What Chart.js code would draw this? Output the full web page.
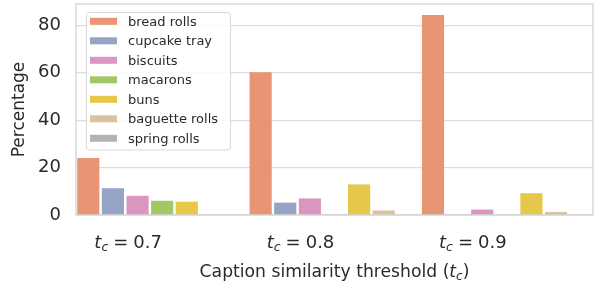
<!DOCTYPE html>
<html><head><meta charset="utf-8">
<script src="https://cdn.jsdelivr.net/npm/chart.js@4/dist/chart.umd.min.js"></script>
<style>html,body{margin:0;padding:0;background:#fff}#wrap{width:594px;height:285px;position:relative}</style>
</head><body><div id="wrap"><canvas id="c"></canvas></div>
<script>
// ---- data ----
const thresholds = ['0.7', '0.8', '0.9'];
const seriesNames = ['bread rolls', 'cupcake tray', 'biscuits', 'macarons', 'buns', 'baguette rolls', 'spring rolls'];
const breadRolls    = [24.0, 60.2, 84.4];
const cupcakeTray   = [11.3, 5.2, 0];
const biscuits      = [8.1, 7.0, 2.3];
const macarons      = [6.0, 0, 0];
const buns          = [5.6, 12.9, 9.2];
const baguetteRolls = [0, 1.9, 1.3];
const springRolls   = [0, 0, 0];
const yTickValues   = [0, 20, 40, 60, 80];
const yMax = 89;

// ---- style ----
const seriesColors = ['#e99575', '#95a3c4', '#db96c0', '#a2c864', '#e5c849', '#dbc29e', '#b3b3b3'];
const FONT = "'DejaVu Sans', sans-serif";
const TEXT = '#2a2a2a';
const seriesValues = [breadRolls, cupcakeTray, biscuits, macarons, buns, baguetteRolls, springRolls];

const datasets = seriesNames.map((name, i) => ({
  label: name,
  data: seriesValues[i],
  backgroundColor: seriesColors[i],
  borderWidth: 0,
  barPercentage: 0.9,
  categoryPercentage: 1.0
}));

function drawMathLabel(ctx, pieces, cx, baseline) {
  let total = 0;
  pieces.forEach(p => { ctx.font = p.font; p.w = ctx.measureText(p.text).width + (p.gap || 0); total += p.w; });
  let x = cx - total / 2;
  ctx.textAlign = 'left';
  ctx.textBaseline = 'alphabetic';
  pieces.forEach(p => { ctx.font = p.font; ctx.fillText(p.text, x + (p.pre || 0), baseline + (p.dy || 0)); x += p.w; });
}

const decor = {
  id: 'decor',
  afterDatasetsDraw(chart) {
    const {ctx, chartArea: a} = chart;
    ctx.save();
    ctx.strokeStyle = '#cfcfcf';
    ctx.lineWidth = 1.2;
    ctx.strokeRect(a.left, a.top, a.right - a.left, a.bottom - a.top);
    ctx.restore();
  },
  afterDraw(chart) {
    const {ctx, chartArea: a} = chart;
    const xs = chart.scales.x;
    ctx.save();
    ctx.fillStyle = TEXT;
    thresholds.forEach((t, i) => {
      const cx = xs.getPixelForValue(i) - 34;
      drawMathLabel(ctx, [
        {text: 't', font: 'italic 18px ' + FONT},
        {text: 'c', font: 'italic 12.5px ' + FONT, dy: 3},
        {text: '=', font: '18px ' + FONT, pre: 5, gap: 10},
        {text: t, font: '18px ' + FONT}
      ], cx, 248);
    });
    drawMathLabel(ctx, [
      {text: 'Caption similarity threshold (', font: '17.2px ' + FONT},
      {text: 't', font: 'italic 17.2px ' + FONT},
      {text: 'c', font: 'italic 12px ' + FONT, dy: 3},
      {text: ')', font: '17.2px ' + FONT}
    ], (a.left + a.right) / 2, 277);
    const lx = 86.5, ly = 12.5, lw = 144, lh = 137.5;
    ctx.beginPath();
    ctx.roundRect(lx, ly, lw, lh, 3);
    ctx.fillStyle = 'rgba(255,255,255,0.85)';
    ctx.fill();
    ctx.strokeStyle = '#d9d9d9';
    ctx.lineWidth = 1;
    ctx.stroke();
    chart.data.datasets.forEach((ds, i) => {
      const y = 21.3 + i * 19.5;
      ctx.fillStyle = ds.backgroundColor;
      ctx.fillRect(90, y - 3.5, 27, 7);
      ctx.fillStyle = TEXT;
      ctx.font = '13px ' + FONT;
      ctx.textAlign = 'left';
      ctx.textBaseline = 'alphabetic';
      ctx.fillText(ds.label, 128, y + 4.5);
    });
    ctx.restore();
  }
};

new Chart(document.getElementById('c'), {
  type: 'bar',
  data: { labels: thresholds, datasets },
  plugins: [decor],
  options: {
    responsive: true,
    maintainAspectRatio: false,
    animation: false,
    layout: { padding: { top: 4, right: 1, left: 0, bottom: 0 } },
    plugins: { legend: { display: false }, tooltip: { enabled: false } },
    scales: {
      x: {
        type: 'category',
        grid: { display: false },
        border: { display: false },
        ticks: { display: false },
        afterFit(s) { s.height = 70; s.paddingLeft = 0; s.paddingRight = 0; }
      },
      y: {
        min: 0, max: yMax,
        afterBuildTicks(s) { s.ticks = yTickValues.map(v => ({ value: v })); },
        ticks: { font: { family: FONT, size: 18 }, color: TEXT, padding: 15 },
        grid: { color: '#dedede', lineWidth: 1.2, drawTicks: false },
        border: { display: false },
        title: { display: true, text: 'Percentage', font: { family: FONT, size: 17 }, color: TEXT, padding: { top: 9, bottom: 0 } },
        afterFit(s) { s.width = 76; s.paddingTop = 0; s.paddingBottom = 0; }
      }
    }
  }
});
</script>
</body></html>
